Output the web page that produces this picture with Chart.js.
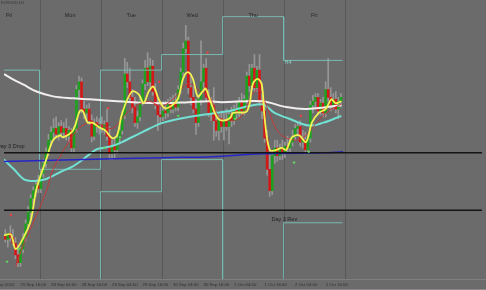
<!DOCTYPE html>
<html><head><meta charset="utf-8">
<script src="https://cdn.jsdelivr.net/npm/chart.js@4.4.1/dist/chart.umd.min.js"></script>
<style>html,body{margin:0;padding:0;background:#6b6b6b;overflow:hidden}#wrap{width:486px;height:290px;position:relative}</style>
</head><body><div id="wrap"><canvas id="c"></canvas></div>
<script>
// ---- candle data (bar index 0..132, EURUSD H1) ----
const openP = [1.1642,1.1638,1.1644,1.1640,1.1634,1.1622,1.1614,1.1628,1.1640,1.1654,1.1666,1.1680,1.1688,1.1694,
1.1690,1.1706,1.1716,1.1728,1.1740,1.1748,1.1752,1.1746,1.1754,1.1748,1.1752,1.1744,1.1750,1.1732,1.1752,1.1792,1.1800,1.1772,1.1768,1.1772,1.1760,1.1744,1.1758,1.1754,
1.1756,1.1752,1.1758,1.1744,1.1726,1.1734,1.1730,1.1742,1.1750,1.1766,1.1808,1.1800,1.1784,1.1774,1.1758,1.1764,1.1780,1.1798,1.1814,1.1800,1.1816,1.1790,1.1776,1.1766,
1.1764,1.1770,1.1768,1.1778,1.1772,1.1780,1.1774,1.1792,1.1810,1.1834,1.1842,1.1794,1.1784,1.1772,1.1758,1.1782,1.1800,1.1814,1.1784,1.1768,1.1776,1.1760,1.1750,1.1762,
1.1754,1.1760,1.1754,1.1766,1.1760,1.1772,1.1768,1.1780,1.1770,1.1782,1.1806,1.1796,1.1814,1.1794,1.1812,1.1780,1.1770,1.1742,1.1710,1.1688,1.1724,1.1732,1.1724,1.1732,
1.1726,1.1734,1.1732,1.1738,1.1744,1.1752,1.1754,1.1738,1.1740,1.1730,1.1742,1.1776,1.1780,1.1784,1.1770,1.1778,1.1768,1.1792,1.1784,1.1776,1.1782,1.1772,1.1780];
const highP = [1.1648,1.1644,1.1652,1.1648,1.1640,1.1632,1.1630,1.1644,1.1658,1.1672,1.1684,1.1692,1.1698,1.1704,
1.1710,1.1720,1.1732,1.1746,1.1754,1.1762,1.1764,1.1758,1.1760,1.1758,1.1762,1.1754,1.1752,1.1754,1.1796,1.1806,1.1804,1.1780,1.1776,1.1778,1.1766,1.1762,1.1764,1.1762,
1.1764,1.1760,1.1772,1.1754,1.1740,1.1742,1.1746,1.1754,1.1770,1.1824,1.1820,1.1814,1.1792,1.1784,1.1770,1.1784,1.1802,1.1822,1.1830,1.1824,1.1822,1.1798,1.1784,1.1776,
1.1780,1.1780,1.1782,1.1784,1.1786,1.1788,1.1796,1.1814,1.1840,1.1858,1.1846,1.1808,1.1796,1.1782,1.1786,1.1842,1.1818,1.1824,1.1792,1.1784,1.1794,1.1770,1.1766,1.1770,
1.1768,1.1772,1.1770,1.1774,1.1776,1.1780,1.1784,1.1788,1.1786,1.1810,1.1818,1.1818,1.1828,1.1816,1.1828,1.1796,1.1780,1.1750,1.1730,1.1728,1.1740,1.1740,1.1736,1.1740,
1.1738,1.1744,1.1742,1.1750,1.1756,1.1758,1.1760,1.1750,1.1748,1.1746,1.1780,1.1786,1.1788,1.1788,1.1782,1.1784,1.1800,1.1824,1.1794,1.1788,1.1790,1.1784,1.1788];
const lowP = [1.1635,1.1630,1.1636,1.1632,1.1618,1.1610,1.1610,1.1624,1.1636,1.1650,1.1660,1.1674,1.1682,1.1686,
1.1686,1.1702,1.1712,1.1724,1.1734,1.1740,1.1742,1.1740,1.1744,1.1742,1.1740,1.1738,1.1728,1.1728,1.1748,1.1784,1.1768,1.1762,1.1760,1.1756,1.1738,1.1740,1.1748,1.1746,
1.1748,1.1746,1.1740,1.1720,1.1720,1.1722,1.1726,1.1736,1.1746,1.1762,1.1794,1.1780,1.1768,1.1754,1.1752,1.1760,1.1776,1.1792,1.1796,1.1794,1.1786,1.1772,1.1750,1.1758,
1.1760,1.1762,1.1764,1.1768,1.1768,1.1770,1.1770,1.1788,1.1806,1.1830,1.1788,1.1776,1.1768,1.1746,1.1754,1.1776,1.1794,1.1780,1.1764,1.1760,1.1740,1.1744,1.1740,1.1748,
1.1740,1.1750,1.1736,1.1754,1.1756,1.1762,1.1764,1.1766,1.1766,1.1778,1.1790,1.1792,1.1790,1.1790,1.1776,1.1762,1.1738,1.1704,1.1682,1.1684,1.1716,1.1718,1.1720,1.1720,
1.1722,1.1728,1.1726,1.1734,1.1740,1.1746,1.1734,1.1732,1.1726,1.1726,1.1738,1.1768,1.1774,1.1766,1.1766,1.1764,1.1764,1.1780,1.1770,1.1772,1.1768,1.1762,1.1774];
const closeP = [1.1638,1.1644,1.1640,1.1634,1.1622,1.1614,1.1628,1.1640,1.1654,1.1666,1.1680,1.1688,1.1694,1.1690,
1.1706,1.1716,1.1728,1.1740,1.1748,1.1752,1.1746,1.1754,1.1748,1.1752,1.1744,1.1750,1.1732,1.1752,1.1792,1.1800,1.1772,1.1768,1.1772,1.1760,1.1744,1.1758,1.1754,1.1756,
1.1752,1.1756,1.1744,1.1726,1.1734,1.1730,1.1742,1.1750,1.1766,1.1808,1.1800,1.1784,1.1774,1.1758,1.1764,1.1780,1.1798,1.1814,1.1800,1.1816,1.1790,1.1776,1.1766,1.1764,
1.1770,1.1768,1.1778,1.1772,1.1780,1.1774,1.1792,1.1810,1.1834,1.1842,1.1794,1.1784,1.1772,1.1758,1.1782,1.1800,1.1814,1.1784,1.1768,1.1776,1.1760,1.1750,1.1762,1.1754,
1.1760,1.1754,1.1766,1.1760,1.1772,1.1768,1.1780,1.1770,1.1782,1.1806,1.1796,1.1814,1.1794,1.1812,1.1780,1.1770,1.1742,1.1710,1.1688,1.1724,1.1732,1.1724,1.1732,1.1726,
1.1734,1.1732,1.1738,1.1744,1.1752,1.1754,1.1738,1.1740,1.1730,1.1742,1.1776,1.1780,1.1784,1.1770,1.1778,1.1768,1.1792,1.1784,1.1776,1.1782,1.1772,1.1780,1.1784];

// ---- moving averages (bar index, price) ----
const yellowX = [-0.5,2.2,4.1,7.2,10,12.3,16.1,18.8,21.5,22.7,26.6,29.3,30.5,32.4,34.3,37,39.3,42.1,44,45.9,49.8,52.5,54.4,56.4,58.3,60.2,62.6,65.3,68,69.9,71.8,73.8,75.7,77.6,78.8,80.7,83.4,85.8,88.5,89.6,95.1,97.4,99.3,100.9,102,104,106.7,108.6,110.5,112.8,115.6,118.3,120.6,123.3,126,128.3,129.9,132.2];
const yellowY = [1.1642,1.1643,1.1628,1.1640,1.1657,1.1690,1.1720,1.1740,1.1745,1.1743,1.1750,1.1770,1.1770,1.1758,1.1758,1.1753,1.1750,1.1742,1.1745,1.1767,1.1790,1.1787,1.1778,1.1790,1.1795,1.1783,1.1773,1.1775,1.1783,1.1803,1.1810,1.1803,1.1785,1.1790,1.1793,1.1780,1.1763,1.1760,1.1763,1.1768,1.1770,1.1798,1.1803,1.1797,1.1763,1.1730,1.1730,1.1732,1.1730,1.1743,1.1745,1.1738,1.1758,1.1768,1.1772,1.1782,1.1778,1.1780];
const redX = [4.1,7.2,12.3,16.1,18.8,21.5,25.4,29.3,33.2,38.2,42.1,45.9,49.8,56.4,61.4,66.4,71.8,76.9,80.7,84.6,92.3,97.4,100.1,102.8,107.8,114.4,118.3,122.1,127.2,132.2];
const redY = [1.1610,1.1633,1.1663,1.1687,1.1710,1.1723,1.1740,1.1753,1.1758,1.1755,1.1752,1.1762,1.1773,1.1780,1.1775,1.1783,1.1798,1.1790,1.1783,1.1762,1.1763,1.1788,1.1792,1.1775,1.1747,1.1740,1.1745,1.1757,1.1770,1.1777];
const cyanX = [-0.5,3.4,7.2,11.1,16.1,21.5,26.6,30.5,35.5,38.2,42.1,45.9,53.7,62.2,74.9,88.1,100.9,105.9,111.7,119.4,125.2,132.2];
const cyanY = [1.1720,1.1710,1.1700,1.1698,1.1700,1.1707,1.1713,1.1720,1.1730,1.1732,1.1734,1.1738,1.1748,1.1758,1.1765,1.1770,1.1777,1.1768,1.1762,1.1755,1.1758,1.1765];
const whiteX = [-0.5,3.4,7.2,12.3,18.8,26.6,33.2,38.2,50,62,72,80,85,101,110.5,118.3,132.2];
const whiteY = [1.1808,1.1802,1.1797,1.1790,1.1785,1.1783,1.1782,1.1781,1.1779,1.1778,1.1779,1.1780,1.1779,1.1780,1.1774,1.1772,1.1776];
const blueX = [-0.5,30.8,62.2,81.5,100.9,124.8,132.9];
const blueY = [1.1718,1.1720,1.1722,1.1723,1.1726,1.1727,1.1728];

// ---- levels ----
const blackLevels = [1.1727, 1.1668];
const dayStart = [-10.5, 13.5, 37.5, 61.5, 85.5, 109.5];
const levelEnd = 132.6;
const upperLevel = [1.1812, 1.1710, 1.1812, 1.1828, 1.1867, 1.1822];
const lowerLevel = [1.1560, 1.1560, 1.1687, 1.1720, 1.1560, 1.1655];
const daySeps = [13.5, 37.5, 61.5, 85.5, 109.5, 133.5];
const dayNames = ["Fri","Mon","Tue","Wed","Thu","Fri"];

// ---- signal markers ----
const redMarkX = [2.2, 40.5, 60.6, 79.6, 116.3];
const redMarkY = [1.1663, 1.1773, 1.1800, 1.1830, 1.1765];
const greenMarkX = [0.7, 5.3, 39, 45.1, 68, 90.4, 113.6, 119.4];
const greenMarkY = [1.1615, 1.1628, 1.1732, 1.1743, 1.1765, 1.1762, 1.1717, 1.1728];

// ---- time axis ----
const timeIdx = [-6, 6, 18, 30, 42, 54, 66, 78, 90, 102, 114, 126];
const timeLabels = ["25 Sep 2020","25 Sep 16:00","28 Sep 04:00","28 Sep 16:00","29 Sep 04:00","29 Sep 16:00","30 Sep 04:00","30 Sep 16:00","1 Oct 04:00","1 Oct 16:00","2 Oct 04:00","2 Oct 16:00"];

const BG = '#6b6b6b';
const pts = (xs, ys) => xs.map((x, i) => ({x, y: ys[i]}));
function stepLine(levels){
  const out = [];
  levels.forEach((v, d) => {
    const end = d + 1 < dayStart.length ? dayStart[d + 1] : levelEnd;
    out.push({x: dayStart[d], y: v}, {x: end, y: v});
  });
  return out;
}
const up = (i) => closeP[i] >= openP[i];

const overlay = {
  id: 'overlay',
  beforeDraw(chart){
    const c = chart.ctx; c.save(); c.fillStyle = BG; c.fillRect(0,0,chart.width,chart.height); c.restore();
  },
  beforeDatasetsDraw(chart){
    const c = chart.ctx, x = chart.scales.x;
    c.save(); c.strokeStyle = '#585858'; c.lineWidth = 1;
    daySeps.forEach(v => { const px = Math.round(x.getPixelForValue(v)) + 0.5; c.beginPath(); c.moveTo(px, 0); c.lineTo(px, chart.height); c.stroke(); });
    c.restore();
  },
  afterDatasetsDraw(chart){
    const c = chart.ctx, x = chart.scales.x, y = chart.scales.y, W = chart.width;
    c.save();
    c.fillStyle = BG; c.fillRect(0, 280, W, 10);
    c.strokeStyle = '#7f7f7f'; c.lineWidth = 1;
    c.beginPath(); c.moveTo(0, 279.5); c.lineTo(W, 279.5); c.stroke();
    c.strokeStyle = '#8a8a8a'; c.beginPath(); c.moveTo(0, 289.5); c.lineTo(W, 289.5); c.stroke();
    c.fillStyle = '#2e2e2e'; c.font = '4.3px "Liberation Sans", Arial, sans-serif'; c.textBaseline = 'middle'; c.textAlign = 'left';
    timeIdx.forEach((t, i) => c.fillText(timeLabels[i], x.getPixelForValue(t), 285));
    c.font = '5.5px "Liberation Sans", Arial, sans-serif'; c.textAlign = 'center'; c.fillStyle = '#262626';
    dayNames.forEach((n, i) => c.fillText(n, x.getPixelForValue(dayStart[i] + 12), 15));
    c.textAlign = 'left'; c.font = '4px "Liberation Sans", Arial, sans-serif'; c.fillStyle = '#3a3a3a';
    c.fillText('EURUSD,H1', 1, 3);
    c.font = '5.5px "Liberation Sans", Arial, sans-serif'; c.fillStyle = '#1e1e1e';
    c.textAlign = 'right'; c.fillText('Day 3 Drop', x.getPixelForValue(7.6), y.getPixelForValue(1.1733));
    c.textAlign = 'left'; c.fillText('Day 3 Rev', x.getPixelForValue(104.7), y.getPixelForValue(1.1658));
    c.fillStyle = '#8fd0c8'; c.fillText('H4', x.getPixelForValue(109.8), y.getPixelForValue(1.1820));
    c.restore();
  }
};

const lineDs = (data, color, width, order, extra) => Object.assign({
  type: 'line', data, borderColor: color, borderWidth: width, pointRadius: 0, fill: false, tension: 0.35, order
}, extra || {});

new Chart(document.getElementById('c'), {
  type: 'bar',
  data: {
    datasets: [
      { type: 'bar', data: lowP.map((l, i) => ({x: i, y: [l, highP[i]]})), backgroundColor: '#969696', barThickness: 1, grouped: false, order: 21 },
      { type: 'bar', data: openP.map((o, i) => ({x: i, y: [o, closeP[i]]})), backgroundColor: openP.map((o, i) => up(i) ? '#1ea01e' : '#d41818'), barThickness: 2, grouped: false, order: 20 },
      lineDs(stepLine(upperLevel), '#78bab2', 1, 15, {tension: 0}),
      lineDs(stepLine(lowerLevel), '#78bab2', 1, 15, {tension: 0}),
      lineDs(pts(whiteX, whiteY), '#f2eeee', 2, 8),
      lineDs(pts(cyanX, cyanY), '#72e0d2', 2, 7),
      lineDs(pts(blueX, blueY), '#2626c8', 1.5, 6),
      lineDs(pts(redX, redY), '#c23a3a', 1, 5),
      lineDs(pts(yellowX, yellowY), '#f2f252', 1.8, 4),
      ...blackLevels.map(v => lineDs([{x: -0.5, y: v}, {x: 187.5, y: v}], '#151515', 1.5, 3, {tension: 0})),
      { type: 'line', data: pts(redMarkX, redMarkY), showLine: false, pointRadius: 1.4, pointStyle: 'rectRot', backgroundColor: '#ff3a3a', borderWidth: 0, order: 2 },
      { type: 'line', data: pts(greenMarkX, greenMarkY), showLine: false, pointRadius: 1.4, pointStyle: 'rectRot', backgroundColor: '#5ee05e', borderWidth: 0, order: 2 }
    ]
  },
  options: {
    responsive: true, maintainAspectRatio: false, animation: false, devicePixelRatio: 1,
    layout: { padding: 0 },
    plugins: { legend: { display: false }, tooltip: { enabled: false } },
    scales: {
      x: { type: 'linear', min: -0.5, max: 187.5, offset: false, display: false },
      y: { type: 'linear', min: 1.1590, max: 1.1880, display: false }
    }
  },
  plugins: [overlay]
});
</script></body></html>
